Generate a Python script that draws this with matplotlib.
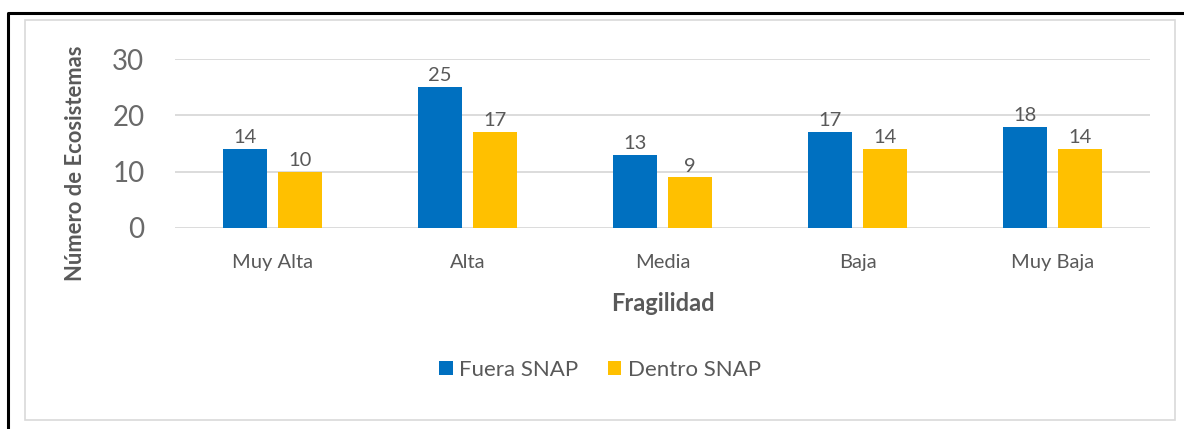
import matplotlib
matplotlib.use("Agg")
import matplotlib.pyplot as plt
from matplotlib.patches import Rectangle
from matplotlib.lines import Line2D
import numpy as np

categories = ["Muy Alta", "Alta", "Media", "Baja", "Muy Baja"]
fuera = [14, 25, 13, 17, 18]
dentro = [10, 17, 9, 14, 14]
series_names = ["Fuera SNAP", "Dentro SNAP"]
yticks = [0, 10, 20, 30]

W, H = 1184, 429
plt.rcParams['font.family'] = ['Lato', 'DejaVu Sans']
fig = plt.figure(figsize=(W / 100, H / 100), dpi=100)

def px(x, y):
    return x / W, 1 - y / H

# outer black border (top and left edges visible)
fig.lines.append(Line2D([8 / W, 8 / W, 1.0], [0.0, 1 - 13 / H, 1 - 13 / H],
                        transform=fig.transFigure, color='black', linewidth=2.2, zorder=0))
# inner light gray frame
fig.patches.append(Rectangle(px(25, 420), (1175 - 25) / W, (420 - 20) / H,
                             transform=fig.transFigure, fill=False,
                             edgecolor='#d9d9d9', linewidth=1.2, zorder=0))

x0, x1 = 175, 1150
ytop, ybot = 59, 228
ax = fig.add_axes([x0 / W, 1 - ybot / H, (x1 - x0) / W, (ybot - ytop) / H])

x = np.arange(len(categories))
bw = 0.226
gap = 0.056
off = (bw + gap) / 2
b1 = ax.bar(x - off, fuera, bw, color='#0070C0', label=series_names[0], zorder=3)
b2 = ax.bar(x + off, dentro, bw, color='#FFC000', label=series_names[1], zorder=3)

for bars, vals in ((b1, fuera), (b2, dentro)):
    for r, v in zip(bars, vals):
        ax.annotate(str(v), (r.get_x() + r.get_width() / 2, v),
                    xytext=(0, 2), textcoords='offset points',
                    ha='center', va='bottom', fontsize=14.5, color='#595959')

ax.set_xlim(-0.5, len(categories) - 0.5)
ax.set_ylim(0, 30)
ax.set_yticks(yticks)
ax.set_yticklabels([str(t) for t in yticks], fontsize=20, color='#6a6a6a')
ax.set_xticks(x)
ax.set_xticklabels(categories, fontsize=14.5, color='#595959')
ax.tick_params(axis='both', length=0)
ax.tick_params(axis='y', pad=22)
ax.tick_params(axis='x', pad=19)
ax.grid(axis='y', color='#d9d9d9', linewidth=1.3, zorder=0)
for s in ax.spines.values():
    s.set_visible(False)

ax.set_xlabel("Fragilidad", fontsize=17, fontweight='bold', color='#595959', labelpad=15)
fig.text(75 / W, 1 - 163 / H, "Número de Ecosistemas", rotation=90,
         ha='center', va='center', fontsize=15.8, fontweight='bold', color='#595959')

leg = fig.legend(handles=[b1, b2], labels=series_names, loc='center',
                 bbox_to_anchor=(600 / W, 1 - 370 / H), ncol=2, frameon=False,
                 fontsize=16, handlelength=0.6, handleheight=0.6,
                 handletextpad=0.3, columnspacing=1.3)
for t in leg.get_texts():
    t.set_color('#595959')

fig.savefig("out.png", dpi=100)
